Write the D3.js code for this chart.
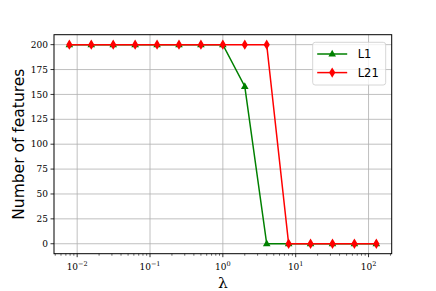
<!DOCTYPE html>
<meta charset="utf-8">
<script src="https://d3js.org/d3.v7.min.js"></script>
<style>
  body { margin: 0; background: #fff; }
</style>
<div id="chart"></div>
<script>
// lambda values (2^-7 .. 2^7) and number of selected features
var lambdas = [0.0078125, 0.015625, 0.03125, 0.0625, 0.125, 0.25, 0.5, 1, 2, 4, 8, 16, 32, 64, 128];
var l1Values = [200, 200, 200, 200, 200, 200, 200, 200, 158, 0, 0, 0, 0, 0, 0];
var l21Values = [200, 200, 200, 200, 200, 200, 200, 200, 200, 200, 0, 0, 0, 0, 0];
var yTicks = [0, 25, 50, 75, 100, 125, 150, 175, 200];
var xTickExps = [-2, -1, 0, 1, 2];

var W = 436, H = 291;
var margin = {top: 34.7, right: 44.3, bottom: 37.3, left: 54};
var width = W - margin.left - margin.right,
    height = H - margin.top - margin.bottom;

var svg = d3.select("#chart").append("svg")
    .attr("width", W).attr("height", H);
var g = svg.append("g")
    .attr("transform", "translate(" + margin.left + "," + margin.top + ")");

var x = d3.scaleLog()
    .domain([Math.pow(10, -2.318), Math.pow(10, 2.318)])
    .range([0, width]);
var y = d3.scaleLinear()
    .domain([-10, 210])
    .range([height, 0]);

// grid
g.selectAll(".gx").data(xTickExps).enter().append("line")
    .attr("x1", d => x(Math.pow(10, d))).attr("x2", d => x(Math.pow(10, d)))
    .attr("y1", 0).attr("y2", height)
    .style("stroke", "#b0b0b0").style("stroke-width", 0.8);
g.selectAll(".gy").data(yTicks).enter().append("line")
    .attr("x1", 0).attr("x2", width)
    .attr("y1", d => y(d)).attr("y2", d => y(d))
    .style("stroke", "#b0b0b0").style("stroke-width", 0.8);

// minor ticks on x
var minors = [];
for (var e = -3; e <= 2; e++) {
  for (var m = 2; m <= 9; m++) {
    var v = m * Math.pow(10, e);
    if (v > x.domain()[0] && v < x.domain()[1]) minors.push(v);
  }
}
g.selectAll(".mt").data(minors).enter().append("line")
    .attr("x1", d => x(d)).attr("x2", d => x(d))
    .attr("y1", height).attr("y2", height + 2)
    .style("stroke", "#000").style("stroke-width", 0.6);

// major ticks
g.selectAll(".xt").data(xTickExps).enter().append("line")
    .attr("x1", d => x(Math.pow(10, d))).attr("x2", d => x(Math.pow(10, d)))
    .attr("y1", height).attr("y2", height + 3.5)
    .style("stroke", "#000").style("stroke-width", 0.8);
g.selectAll(".yt").data(yTicks).enter().append("line")
    .attr("x1", -3.5).attr("x2", 0)
    .attr("y1", d => y(d)).attr("y2", d => y(d))
    .style("stroke", "#000").style("stroke-width", 0.8);

// tick labels
var serif = "'DejaVu Serif', 'Liberation Serif', serif";
g.selectAll(".yl").data(yTicks).enter().append("text")
    .attr("x", -6).attr("y", d => y(d)).attr("dy", "0.35em")
    .attr("text-anchor", "end")
    .style("font-family", serif).style("font-size", "9px")
    .text(d => d);
var xl = g.selectAll(".xl").data(xTickExps).enter().append("text")
    .attr("x", d => x(Math.pow(10, d))).attr("y", height + 16.5)
    .attr("text-anchor", "middle")
    .style("font-family", serif).style("font-size", "9px");
xl.append("tspan").text("10");
xl.append("tspan").attr("dy", -4).style("font-size", "6.5px")
    .text(d => d < 0 ? "\u2212" + (-d) : d);

// spines
g.append("rect").attr("width", width).attr("height", height)
    .style("fill", "none").style("stroke", "#000").style("stroke-width", 1);

// lines
var series = [
  {name: "L1", values: l1Values, color: "#008000", marker: "tri"},
  {name: "L21", values: l21Values, color: "#ff0000", marker: "dia"}
];
var line = d3.line().x(d => x(d[0])).y(d => y(d[1]));
var triPath = "M0,-4.2L3.8,2.6L-3.8,2.6Z";
var diaPath = "M0,-5.2L3.1,0L0,5.2L-3.1,0Z";

series.forEach(function(s) {
  var pts = lambdas.map((l, i) => [l, s.values[i]]);
  g.append("path").datum(pts)
      .attr("d", line)
      .style("fill", "none").style("stroke", s.color).style("stroke-width", 1.5);
  g.selectAll(".m" + s.name).data(pts).enter().append("path")
      .attr("transform", d => "translate(" + x(d[0]) + "," + y(d[1]) + ")")
      .attr("d", s.marker === "tri" ? triPath : diaPath)
      .style("fill", s.color);
});

// legend
var lg = svg.append("g").attr("transform", "translate(312.7,42.3)");
lg.append("rect").attr("width", 73).attr("height", 42.7).attr("rx", 2.5)
    .style("fill", "#fff").style("fill-opacity", 0.8)
    .style("stroke", "#cccccc").style("stroke-width", 0.8);
series.forEach(function(s, i) {
  var yy = 11.7 + i * 18.6;
  lg.append("line").attr("x1", 4.5).attr("x2", 34.5).attr("y1", yy).attr("y2", yy)
      .style("stroke", s.color).style("stroke-width", 1.5);
  lg.append("path").attr("transform", "translate(19.5," + yy + ")")
      .attr("d", s.marker === "tri" ? triPath : diaPath).style("fill", s.color);
  lg.append("text").attr("x", 45).attr("y", yy).attr("dy", "0.36em")
      .style("font-family", "'DejaVu Sans', sans-serif").style("font-size", "11.5px")
      .text(s.name);
});

// axis titles
svg.append("text")
    .attr("transform", "translate(24," + (margin.top + height / 2) + ") rotate(-90)")
    .attr("text-anchor", "middle")
    .style("font-family", "'DejaVu Sans', sans-serif").style("font-size", "15.5px")
    .text("Number of features");
svg.append("text")
    .attr("x", margin.left + width / 2).attr("y", 288)
    .attr("text-anchor", "middle")
    .style("font-family", serif).style("font-size", "15.5px")
    .text("\u03bb");
</script>
